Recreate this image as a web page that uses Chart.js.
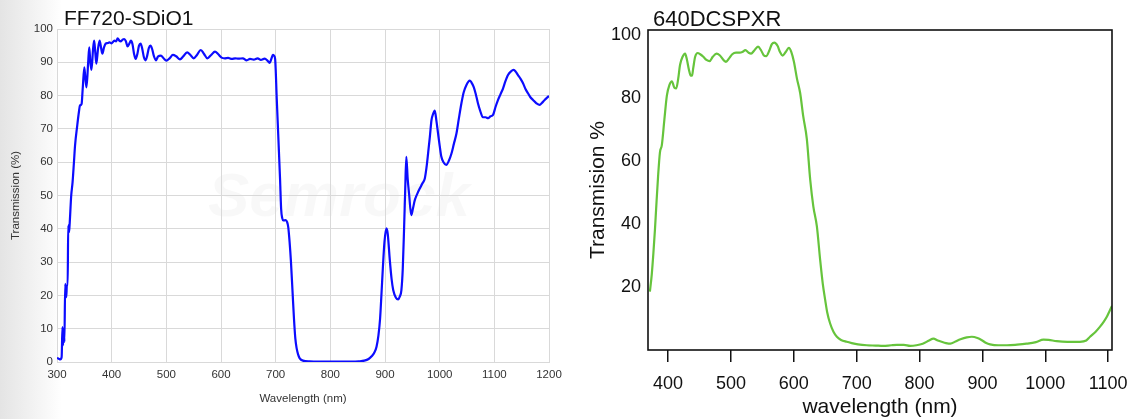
<!DOCTYPE html>
<html>
<head>
<meta charset="utf-8">
<script src="https://cdn.jsdelivr.net/npm/chart.js@4.4.1/dist/chart.umd.min.js"></script>
<style>
  html, body { margin: 0; padding: 0; width: 1133px; height: 419px; overflow: hidden; background: #fff; }
  #left { position: absolute; left: 0; top: 0; width: 570px; height: 419px;
          background: linear-gradient(to right, #e4e4e4 0px, #f3f3f3 35px, #ffffff 62px); }
  #right { position: absolute; left: 570px; top: 0; width: 563px; height: 419px; background: #fff; }
</style>
</head>
<body>
<div id="left"><canvas id="ffChart" width="570" height="419"></canvas></div>
<div id="right"><canvas id="dcChart" width="563" height="419"></canvas></div>
<script>
// FF720-SDiO1 (left panel), wavelength in nm / transmission in %
const ffWavelength = [
  300, 303, 306, 308.5, 310, 311, 312.5, 313.5, 315, 317, 318, 319.5, 320.5, 322, 323, 326, 328.5, 331, 333, 337,
  340, 342, 345, 347, 350, 352, 354, 357, 359, 361, 363, 366, 368, 370, 372, 375, 378, 381, 383, 386,
  389, 393, 396, 400, 405, 408, 411, 414, 417, 420, 423, 426, 429, 432, 435, 438, 441, 444, 447, 450,
  453, 456, 459, 462, 465, 468, 471, 474, 477, 481, 485, 490, 495, 500, 506, 512, 518, 525, 531, 538,
  544, 550, 556, 563, 569, 575, 582, 589, 595, 601, 607, 613, 620, 626, 632, 640, 647, 653, 660, 667,
  673, 680, 685, 689, 692, 695, 697, 699, 702, 705, 708, 710, 712, 714, 718, 721, 723, 725.5, 728, 731,
  733.5, 736, 738.5, 741, 744, 750, 762, 800, 840, 852, 862, 870, 876, 881, 884.5, 888, 891, 893.6, 896, 899,
  902.5, 905, 908.8, 912, 915, 920, 924, 927, 930, 932.5, 935, 937, 939, 941.5, 944, 948, 951, 954.5, 959, 963.6,
  968, 972.8, 976, 978.8, 982, 985, 988, 991, 994, 997, 1000, 1003, 1007, 1012, 1017, 1021.6, 1026, 1030.7, 1035, 1039.8,
  1044, 1049, 1055, 1058, 1062, 1066, 1070, 1074, 1079, 1084, 1088.5, 1093, 1097.6, 1102, 1106.8, 1111, 1116, 1120, 1125, 1130,
  1135.5, 1139, 1143, 1148, 1152.5, 1157, 1161.6, 1166, 1170.8, 1177, 1183, 1187, 1192, 1196, 1200
];
const ffTransmission = [
  1.2, 1.0, 0.8, 1.5, 10.5, 5, 10, 6, 23.5, 19.5, 23, 23, 41, 39, 41, 50, 54, 60, 65, 71,
  75, 77, 77.5, 82, 88.5, 85, 82.5, 90, 94.5, 90, 87.7, 94, 96.5, 93, 89.6, 94, 96.5, 94, 92.6, 94.5,
  95.6, 95.8, 96, 95.7, 96.5, 96.3, 97.2, 96.5, 96.3, 96.8, 97, 96.3, 94.8, 95.5, 96.5, 95.5, 92.5, 91, 92.5, 95,
  95.6, 94, 91.5, 90.6, 92, 94.3, 95, 94, 92, 90.6, 91.8, 92, 91.2, 90.5, 91.2, 92.2, 91.8, 90.9, 91.8, 93,
  92.2, 91.2, 92.2, 93.7, 92.5, 91.2, 92.2, 93.2, 92.4, 91.4, 91.2, 91.3, 91, 91.2, 91.1, 91.2, 90.6, 91, 90.8, 91.2,
  90.7, 91.1, 90.5, 89.8, 91, 92.2, 92, 91, 79, 67, 55, 46, 43.2, 42.5, 42.6, 42, 40.5, 36, 30, 20.7,
  13, 7, 4, 2.3, 1.1, 0.4, 0.2, 0.1, 0.1, 0.2, 0.4, 0.9, 1.8, 3, 4.6, 8, 13, 20.6, 28, 36,
  40.1, 38.5, 30.6, 25, 21.6, 19.3, 18.8, 19.6, 21.6, 28, 40.6, 52, 61.6, 55, 50.6, 44.1, 46, 48.6, 50.5, 52.1,
  53.5, 55.1, 58.5, 62.6, 67.5, 72.6, 74.5, 75.5, 72.5, 68.7, 65, 61.7, 60, 59.2, 60.5, 62.6, 65.5, 68.6, 73, 77.7,
  81, 83.2, 84.5, 84, 82.7, 80.5, 77.7, 75.5, 73.5, 73.5, 73.2, 73.8, 74.2, 76.5, 78.7, 80.3, 82.2, 84.2, 86.2, 87.2,
  87.7, 87.2, 86.2, 85, 83.7, 82, 80.7, 79.5, 78.7, 77.7, 77.2, 77.8, 78.7, 79.3, 79.9
];
const ffXTicks = [300, 400, 500, 600, 700, 800, 900, 1000, 1100, 1200];
const ffYTicks = [0, 10, 20, 30, 40, 50, 60, 70, 80, 90, 100];

// 640DCSPXR (right panel)
const dcWavelength = [
  371, 374, 376.6, 379, 381, 384, 387, 390, 394, 398, 402, 406, 410, 413, 416, 419, 423, 427, 430, 433,
  436, 438, 440, 443, 447, 451, 456, 461, 466, 471, 477, 482, 488, 492, 497, 502, 508, 514, 518, 523,
  528, 532, 537, 543, 548, 552, 556, 561, 565, 569, 574, 578, 582, 587, 592, 596, 600, 605, 610, 615,
  620.6, 626, 631, 636.6, 641.8, 646, 649.8, 653, 657.7, 663, 668.4, 675, 684, 692, 702, 716, 730, 742, 755, 764,
  775, 785, 795, 805, 815, 822, 829, 835, 842, 849, 857, 865, 875, 883, 892, 899, 906, 912, 925, 939,
  955, 970, 985, 997, 1005, 1018, 1035, 1055, 1065, 1071, 1080, 1087, 1093, 1098, 1102, 1106
];
const dcTransmission = [
  18.5, 24, 30.8, 38, 45, 55, 62.7, 65, 73, 80.7, 84, 85.2, 83.2, 83, 86, 90.5, 93, 94, 92, 89,
  87, 87, 89.5, 93, 94.2, 93.8, 93, 92, 91.6, 93, 94, 93.5, 92, 91.4, 92.5, 93.8, 94.3, 94.3, 94.5, 95.1,
  94.3, 94, 95, 96.2, 95, 93.5, 93.2, 95, 97, 97.5, 96.5, 94.5, 93.4, 94.5, 95.8, 94.5, 91.5, 86, 81.5, 74,
  67, 54, 45.5, 39.2, 28.6, 21, 15.9, 12, 8.4, 5.8, 4.2, 3.2, 2.6, 2.2, 1.8, 1.5, 1.4, 1.3, 1.5, 1.6,
  1.6, 1.3, 1.5, 2, 3, 3.6, 3, 2.6, 2.2, 2, 2.7, 3.4, 4, 4.2, 3.8, 3.1, 2.2, 1.8, 1.5, 1.5,
  1.7, 2, 2.5, 3.3, 3.2, 2.8, 2.6, 2.6, 3, 4.2, 5.8, 7.4, 9, 10.6, 12.3, 14
];
const dcXTicks = [400, 500, 600, 700, 800, 900, 1000, 1100];
const dcYTicks = [20, 40, 60, 80, 100];

const FONT = "'Liberation Sans', Arial, sans-serif";

function toPoints(xs, ys) {
  return xs.map((x, i) => ({ x: x, y: ys[i] }));
}

// plain numbers, no thousands separator
const plain = v => String(v);

// draws chart title, plot background, optional frame and watermark
const panelDecor = {
  id: "panelDecor",
  beforeDraw(chart, args, opts) {
    const { ctx, chartArea: a } = chart;
    ctx.save();
    ctx.fillStyle = "#ffffff";
    ctx.fillRect(a.left, a.top, a.right - a.left, a.bottom - a.top);
    if (opts.watermark) {
      ctx.font = "italic bold 62px " + FONT;
      ctx.fillStyle = "rgba(0,0,0,0.028)";
      ctx.fillText(opts.watermark, 208, 216);
    }
    ctx.restore();
  },
  afterDraw(chart, args, opts) {
    const { ctx, chartArea: a } = chart;
    ctx.save();
    if (opts.frame) {
      ctx.strokeStyle = "#111";
      ctx.lineWidth = 1.6;
      ctx.strokeRect(a.left, a.top, a.right - a.left, a.bottom - a.top);
    }
    ctx.fillStyle = "#111";
    ctx.font = opts.titleSize + "px " + FONT;
    ctx.textBaseline = "alphabetic";
    ctx.fillText(opts.title, opts.titleX, opts.titleY);
    ctx.restore();
  }
};

// Left chart
new Chart(document.getElementById("ffChart"), {
  type: "line",
  data: {
    datasets: [{
      data: toPoints(ffWavelength, ffTransmission),
      borderColor: "#0c0cff",
      borderWidth: 2.2,
      pointRadius: 0,
      cubicInterpolationMode: "monotone"
    }]
  },
  options: {
    responsive: false,
    animation: false,
    layout: { padding: { left: 0, top: 29, right: 21, bottom: 0 } },
    plugins: {
      legend: { display: false },
      tooltip: { enabled: false },
      panelDecor: { title: "FF720-SDiO1", titleX: 64, titleY: 25, titleSize: 21, watermark: "Semrock" }
    },
    scales: {
      x: {
        type: "linear", min: 300, max: 1200,
        afterBuildTicks: s => { s.ticks = ffXTicks.map(v => ({ value: v })); },
        afterFit: s => { s.height = 57; s.paddingLeft = 0; s.paddingRight = 0; },
        grid: { color: "#d9d9d9", drawTicks: false },
        border: { color: "#d9d9d9" },
        ticks: { padding: 6, color: "#333", callback: plain, font: { family: FONT, size: 11.5 } },
        title: { display: true, text: "Wavelength (nm)", color: "#333", font: { family: FONT, size: 11.5 }, padding: { top: 0, bottom: 13 } }
      },
      y: {
        min: 0, max: 100,
        afterBuildTicks: s => { s.ticks = ffYTicks.map(v => ({ value: v })); },
        afterFit: s => { s.width = 57; },
        grid: { color: "#d9d9d9", drawTicks: false },
        border: { color: "#d9d9d9" },
        ticks: { padding: 4, color: "#333", callback: plain, font: { family: FONT, size: 11.5 } },
        title: { display: true, text: "Transmission (%)", color: "#333", font: { family: FONT, size: 11.5 }, padding: { top: 9, bottom: 0 } }
      }
    }
  },
  plugins: [panelDecor]
});

// Right chart
new Chart(document.getElementById("dcChart"), {
  type: "line",
  data: {
    datasets: [{
      data: toPoints(dcWavelength, dcTransmission),
      borderColor: "#66c43c",
      borderWidth: 2.2,
      pointRadius: 0,
      cubicInterpolationMode: "monotone"
    }]
  },
  options: {
    responsive: false,
    animation: false,
    layout: { padding: { left: 0, top: 30, right: 21, bottom: 0 } },
    plugins: {
      legend: { display: false },
      tooltip: { enabled: false },
      panelDecor: { title: "640DCSPXR", titleX: 83, titleY: 26, titleSize: 22, frame: true }
    },
    scales: {
      x: {
        type: "linear", min: 368, max: 1106,
        afterBuildTicks: s => { s.ticks = dcXTicks.map(v => ({ value: v })); },
        afterFit: s => { s.height = 69; s.paddingLeft = 0; s.paddingRight = 0; },
        grid: { drawOnChartArea: false, drawTicks: true, tickLength: 12, tickColor: "#111", lineWidth: 1.5 },
        border: { display: false },
        ticks: { padding: 11, color: "#111", callback: plain, font: { family: FONT, size: 18 } },
        title: { display: true, text: "wavelength (nm)", color: "#111", font: { family: FONT, size: 21 }, padding: { top: 0, bottom: -1 } }
      },
      y: {
        min: 0, max: 101.5,
        afterBuildTicks: s => { s.ticks = dcYTicks.map(v => ({ value: v })); },
        afterFit: s => { s.width = 78; },
        grid: { display: false, drawTicks: false },
        border: { display: false },
        ticks: { padding: 7, color: "#111", callback: plain, font: { family: FONT, size: 18 } },
        title: { display: true, text: "Transmision %", color: "#111", font: { family: FONT, size: 21 }, padding: { top: 16, bottom: 0 } }
      }
    }
  },
  plugins: [panelDecor]
});
</script>
</body>
</html>
